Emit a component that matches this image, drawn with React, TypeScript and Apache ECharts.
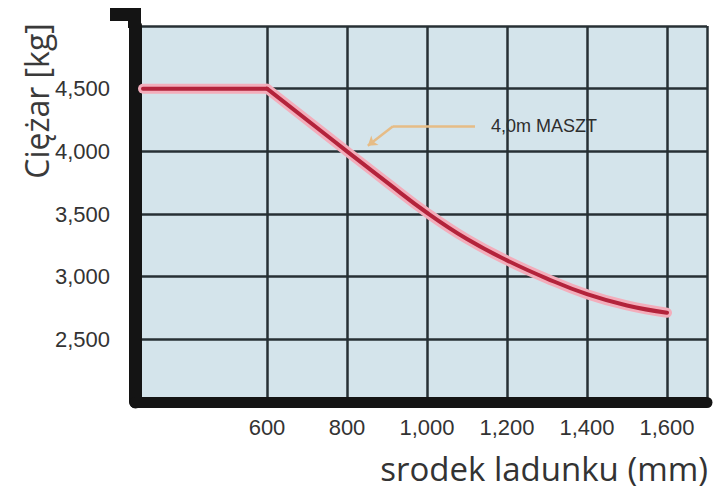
import { useEffect, useRef } from "react";
import * as echarts from "echarts";

// load centre (mm) vs capacity (kg)
const flatCenters = [290, 600];
const flatCapacities = [4500, 4500];
const loadCenters = [600, 800, 900, 1000, 1100, 1200, 1300, 1400, 1500, 1600];
const capacities = [4500, 4000, 3752, 3510, 3300, 3130, 2985, 2860, 2770, 2712];

const xTicks = [600, 800, 1000, 1200, 1400, 1600];
const xGridLines = [600, 800, 1000, 1200, 1400, 1600, 1700];

const mastLabel = "4,0m MASZT";
const yName = "Ciężar [kg]";
const xName = "srodek ladunku (mm)";

const tickFont = "'Liberation Sans', Arial, sans-serif";
const RED = "#b3233b";
const GLOW = "#f3adbb";
const BAR = "#141414";
const TAN = "#e6bc86";

const pairs = (xs: number[], ys: number[]) => xs.map((x, i) => [x, ys[i]]);

const App = () => {
  const chartRef = useRef<HTMLDivElement>(null);

  useEffect(() => {
    document.body.style.margin = "0";
    if (!chartRef.current) return;
    const chart = echarts.init(chartRef.current, undefined, { renderer: "svg" });

    const lineSeries = (data: number[][], smooth: number | boolean, width: number, color: string, z: number) => ({
      type: "line",
      data,
      smooth,
      symbol: "none",
      z,
      lineStyle: { width, color, cap: "round" },
    });

    chart.setOption({
      animation: false,
      backgroundColor: "#ffffff",
      grid: {
        left: 135,
        right: 19,
        top: 26,
        bottom: 96,
        show: true,
        backgroundColor: "#d4e4eb",
        borderWidth: 0,
      },
      xAxis: {
        type: "value",
        min: 270,
        max: 1700,
        axisLine: { show: true, lineStyle: { color: BAR, width: 11 } },
        axisTick: { show: false, customValues: xGridLines },
        axisLabel: {
          customValues: xTicks,
          margin: 14,
          color: "#333",
          fontFamily: tickFont,
          fontSize: 22,
          formatter: (v: number) => v.toLocaleString("en-US"),
        },
        splitLine: { show: true, lineStyle: { color: "#273034", width: 2.5 } },
      },
      yAxis: {
        type: "value",
        min: 2000,
        max: 5000,
        interval: 500,
        axisLine: { show: true, lineStyle: { color: BAR, width: 13 } },
        axisTick: { show: false },
        axisLabel: {
          margin: 25,
          color: "#333",
          fontFamily: tickFont,
          fontSize: 22,
          formatter: (v: number) => (v === 2000 || v === 5000 ? "" : v.toLocaleString("en-US")),
        },
        splitLine: { show: true, lineStyle: { color: "#273034", width: 2.5 } },
      },
      series: [
        lineSeries(pairs(flatCenters, flatCapacities), false, 10, GLOW, 2),
        lineSeries(pairs(loadCenters, capacities), 0.45, 10, GLOW, 2),
        lineSeries(pairs(flatCenters, flatCapacities), false, 4, RED, 3),
        {
          ...lineSeries(pairs(loadCenters, capacities), 0.45, 4, RED, 3),
          markLine: {
            silent: true,
            animation: false,
            label: { show: false },
            lineStyle: { color: TAN, width: 2.5, type: "solid" },
            data: [
              [
                { coord: [1120, 4200], symbol: "none" },
                { coord: [915, 4200], symbol: "none" },
              ],
              [
                { coord: [915, 4200], symbol: "none" },
                { coord: [852, 4045], symbol: "arrow", symbolSize: 9 },
              ],
            ],
          },
          markPoint: {
            silent: true,
            symbol: "circle",
            symbolSize: 0,
            data: [
              {
                coord: [1160, 4200],
                label: {
                  show: true,
                  position: "right",
                  distance: 0,
                  formatter: mastLabel,
                  color: "#2e2e2e",
                  fontFamily: tickFont,
                  fontSize: 18,
                },
              },
            ],
          },
        },
      ],
      graphic: [
        // top extension and cap of the left axis bar
        { type: "rect", shape: { x: 128, y: 8, width: 13, height: 20 }, style: { fill: BAR }, z: 10 },
        { type: "rect", shape: { x: 110, y: 8, width: 20, height: 13 }, style: { fill: BAR }, z: 10 },
        {
          type: "text",
          x: 36,
          y: 101,
          rotation: Math.PI / 2,
          style: {
            text: yName,
            fill: "#3a3a3a",
            font: "32px 'Open Sans', sans-serif",
            align: "center",
            verticalAlign: "middle",
          },
        },
        {
          type: "text",
          right: 18,
          top: 452,
          style: {
            text: xName,
            fill: "#333",
            font: "33px 'Open Sans', sans-serif",
          },
        },
      ],
    });

    return () => {
      chart.dispose();
    };
  }, []);

  return <div ref={chartRef} style={{ width: "726px", height: "498px" }} />;
};

export default App;
